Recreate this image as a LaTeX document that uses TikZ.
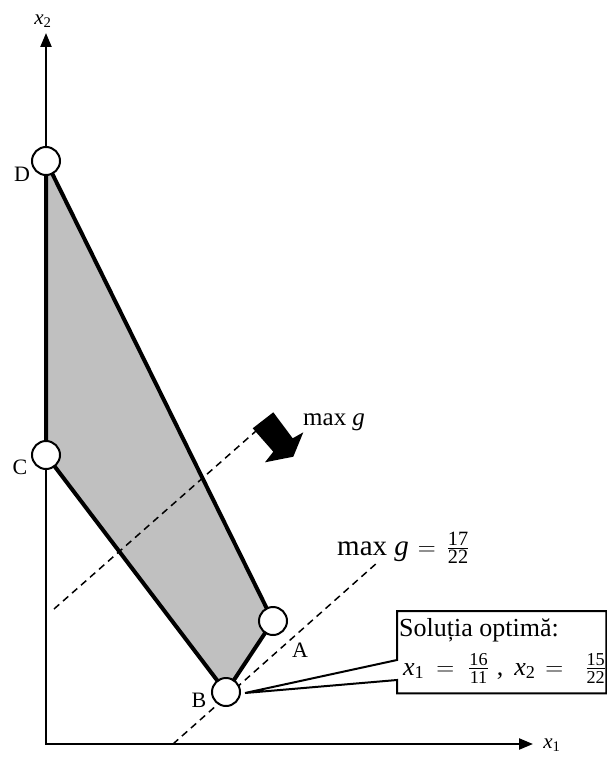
\documentclass[tikz,border=0pt]{standalone}
\usepackage{amsmath}
\usepackage{fontspec}
\setmainfont{Liberation Serif}
\usetikzlibrary{arrows.meta}
\definecolor{region}{RGB}{192,192,192}
\newcommand\myfrac[2]{$\frac{\text{#1}}{\text{#2}}$}
\newcommand\myvar[2]{\textit{#1}$_{\text{#2}}$}
\begin{document}
\begin{tikzpicture}[x=1pt,y=-1pt,
  vertex/.style={circle, draw, fill=white, line width=2pt, minimum size=28pt, inner sep=0pt},
  axisline/.style={line width=2.3pt, line join=miter,
    {Triangle[length=14pt,width=11pt]}-{Triangle[length=14pt,width=11pt]}},
  border/.style={line width=4pt, line join=round},
  levelline/.style={line width=1.5pt, dash pattern=on 7pt off 5pt},
  lbl/.style={font=\fontsize{22}{26}\selectfont, inner sep=0pt},
  axlbl/.style={font=\fontsize{21}{25}\selectfont, inner sep=0pt},
]
\useasboundingbox (0,0) rectangle (607,757);
% coordinates
\coordinate (o) at (46,744);
\coordinate (xend) at (533,744);
\coordinate (yend) at (46,33);
\coordinate (pD) at (46,161);
\coordinate (pC) at (46,455);
\coordinate (pB) at (226,692);
\coordinate (pA) at (273,621);
\coordinate (l1a) at (54,609);
\coordinate (l1b) at (256,431);
\coordinate (l2a) at (173,744);
\coordinate (l2b) at (378,562);
\coordinate (tip) at (245,693);
% region
\fill[region] (pD) -- (pC) -- (pB) -- (pA) -- cycle;
% axes
\draw[axisline] (yend) -- (o) -- (xend);
% level lines
\draw[levelline] (l1a) -- (l1b);
\draw[levelline] (l2a) -- (l2b);
% border
\draw[border] (pD) -- (pC) -- (pB) -- (pA) -- cycle;
% direction arrow
\fill (252.7,428.3) -- (273.3,412.3) -- (292.7,438.3) -- (303.3,432.3)
  -- (293.3,456.7) -- (265,462.3) -- (273.3,451.7) -- cycle;
% vertices
\node[vertex] (D) at (pD) {};
\node[vertex] (C) at (pC) {};
\node[vertex] (B) at (pB) {};
\node[vertex] (A) at (pA) {};
% labels
\node[lbl] (lD) at (22,174) {D};
\node[lbl] (lC) at (20,467) {C};
\node[lbl] (lB) at (199,700) {B};
\node[lbl] (lA) at (300,650) {A};
\node[axlbl] (lx2) at (43,21) {\myvar{x}{2}};
\node[axlbl] (lx1) at (552,745) {\myvar{x}{1}};
\node[font=\fontsize{25}{30}\selectfont, inner sep=0pt, anchor=base west] (mg) at (303,425) {max \textit{g}};
\node[font=\fontsize{29}{34}\selectfont, inner sep=0pt, anchor=base west] (mgv) at (337,555)
  {max \textit{g}\hspace{9pt}$=$\hspace{11pt}\myfrac{17}{22}};
% callout
\node[anchor=north west, minimum width=209pt, minimum height=82pt, inner sep=0pt] (box) at (397,611) {};
\draw[line width=2pt, fill=white, line join=miter] (box.north west) -- (box.north east) -- (box.south east)
  -- (box.south west) -- (397,680) -- (tip) -- (397,660) -- cycle;
\node[font=\fontsize{26}{30}\selectfont, inner sep=0pt, anchor=base west] (s1) at (399,636) {Soluția optimă:};
\node[font=\fontsize{26}{30}\selectfont, inner sep=0pt, anchor=base west] (s2) at (403,675)
  {\myvar{x}{1}\hspace{12pt}$=$\hspace{14pt}\myfrac{16}{11}\hspace{8pt},\hspace{11pt}\myvar{x}{2}\hspace{10pt}$=$\hspace{22pt}\myfrac{15}{22}};
\end{tikzpicture}
\end{document}
